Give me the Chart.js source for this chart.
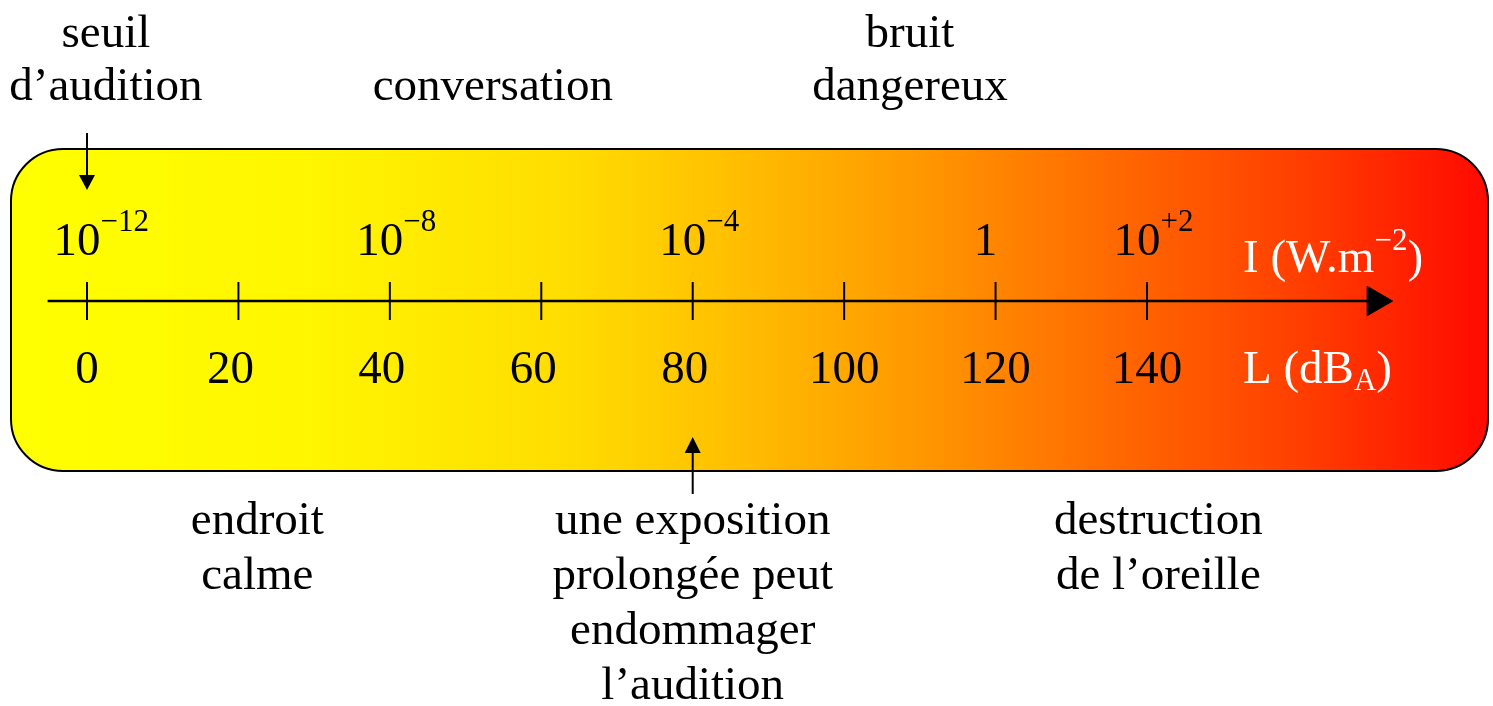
<!DOCTYPE html>
<html>
<head>
<meta charset="utf-8">
<script src="https://cdn.jsdelivr.net/npm/chart.js@4"></script>
<style>
  html, body { margin: 0; padding: 0; background: #ffffff; }
  canvas { display: block; }
</style>
</head>
<body>
<canvas id="c" width="1493" height="706"></canvas>
<script>
// ---- data ----
const dbTicks = [0, 20, 40, 60, 80, 100, 120, 140];
const dbTickLabels = ['0', '20', '40', '60', '80', '100', '120', '140'];
const intensityTickDb = [0, 40, 80, 120, 140];
const intensityMantissa = ['10', '10', '10', '1', '10'];
const intensityExponent = ['−12', '−8', '−4', '', '+2'];
const axisRangeDb = [-5.2, 169.5];
const axisArrowDb = [170.2];
const topNotes = [['seuil', 'd’audition'], ['conversation'], ['bruit', 'dangereux']];
const topNoteDb = [2.5, 53.6, 108.7];
const bottomNotes = [['endroit', 'calme'], ['une exposition', 'prolongée peut', 'endommager', 'l’audition'], ['destruction', 'de l’oreille']];
const bottomNoteDb = [22.5, 80, 141.5];
const seuilArrowDb = 0;
const expositionArrowDb = 80;
const intensityUnit = ['I (W.m', '−2', ')'];
const levelUnit = ['L (dB', 'A', ')'];

const FONT = '"Liberation Serif", "Times New Roman", serif';

const diagramPlugin = {
  id: 'diagram',
  beforeDraw(chart) {
    const ctx = chart.ctx;
    ctx.save();
    ctx.fillStyle = '#ffffff';
    ctx.fillRect(0, 0, chart.width, chart.height);
    const L = 11, T = 149, R = 1488, B = 471, r = 52;
    const g = ctx.createLinearGradient(L, 0, R, 0);
    g.addColorStop(0.0, '#ffff00');
    g.addColorStop(0.2, '#fff600');
    g.addColorStop(0.38, '#ffdc00');
    g.addColorStop(0.5, '#ffbc00');
    g.addColorStop(0.62, '#ff9600');
    g.addColorStop(0.75, '#ff6800');
    g.addColorStop(0.88, '#ff3c00');
    g.addColorStop(1.0, '#ff0a00');
    ctx.beginPath();
    ctx.moveTo(L + r, T);
    ctx.lineTo(R - r, T);
    ctx.arcTo(R, T, R, T + r, r);
    ctx.lineTo(R, B - r);
    ctx.arcTo(R, B, R - r, B, r);
    ctx.lineTo(L + r, B);
    ctx.arcTo(L, B, L, B - r, r);
    ctx.lineTo(L, T + r);
    ctx.arcTo(L, T, L + r, T, r);
    ctx.closePath();
    ctx.fillStyle = g;
    ctx.fill();
    ctx.lineWidth = 2;
    ctx.strokeStyle = '#000000';
    ctx.stroke();
    ctx.restore();
  },
  afterDatasetsDraw(chart) {
    const ctx = chart.ctx;
    const xs = chart.scales.x;
    const big = '47px ' + FONT;
    const small = '31px ' + FONT;
    ctx.save();
    ctx.textBaseline = 'alphabetic';
    ctx.fillStyle = '#000000';

    // dB tick labels (below axis)
    ctx.font = big;
    ctx.textAlign = 'center';
    dbTicks.forEach((v, i) => {
      const lab = dbTickLabels[i];
      const off = lab.length === 2 ? -8 : 0;
      ctx.fillText(lab, xs.getPixelForValue(v) + off, 383);
    });

    // intensity labels (above axis)
    intensityTickDb.forEach((v, i) => {
      const cx = xs.getPixelForValue(v) - 10;
      ctx.font = big;
      ctx.textAlign = 'center';
      ctx.fillText(intensityMantissa[i], cx, 255);
      const w = ctx.measureText(intensityMantissa[i]).width;
      if (intensityExponent[i]) {
        ctx.font = small;
        ctx.textAlign = 'left';
        ctx.fillText(intensityExponent[i], cx + w / 2, 231);
      }
    });

    // unit labels in white
    ctx.fillStyle = '#ffffff';
    ctx.textAlign = 'left';
    let x = 1243;
    ctx.font = big;
    ctx.fillText(intensityUnit[0], x, 272);
    x += ctx.measureText(intensityUnit[0]).width;
    ctx.font = small;
    ctx.fillText(intensityUnit[1], x, 250);
    x += ctx.measureText(intensityUnit[1]).width;
    ctx.font = big;
    ctx.fillText(intensityUnit[2], x, 272);

    x = 1243;
    ctx.font = big;
    ctx.fillText(levelUnit[0], x, 383);
    x += ctx.measureText(levelUnit[0]).width;
    ctx.font = small;
    ctx.fillText(levelUnit[1], x, 390);
    x += ctx.measureText(levelUnit[1]).width;
    ctx.font = big;
    ctx.fillText(levelUnit[2], x, 383);

    // notes
    ctx.fillStyle = '#000000';
    ctx.font = big;
    ctx.textAlign = 'center';
    topNotes.forEach((lines, i) => {
      const cx = xs.getPixelForValue(topNoteDb[i]);
      const n = lines.length;
      lines.forEach((t, j) => ctx.fillText(t, cx, 100 - (n - 1 - j) * 53));
    });
    bottomNotes.forEach((lines, i) => {
      const cx = xs.getPixelForValue(bottomNoteDb[i]);
      lines.forEach((t, j) => ctx.fillText(t, cx, 534 + j * 55));
    });

    // annotation arrows
    ctx.strokeStyle = '#000000';
    ctx.lineWidth = 2;
    const ax1 = xs.getPixelForValue(seuilArrowDb);
    ctx.beginPath();
    ctx.moveTo(ax1, 133);
    ctx.lineTo(ax1, 178);
    ctx.stroke();
    ctx.beginPath();
    ctx.moveTo(ax1 - 8, 175);
    ctx.lineTo(ax1 + 8, 175);
    ctx.lineTo(ax1, 190);
    ctx.closePath();
    ctx.fill();

    const ax2 = xs.getPixelForValue(expositionArrowDb);
    ctx.beginPath();
    ctx.moveTo(ax2, 494);
    ctx.lineTo(ax2, 450);
    ctx.stroke();
    ctx.beginPath();
    ctx.moveTo(ax2 - 8, 453);
    ctx.lineTo(ax2 + 8, 453);
    ctx.lineTo(ax2, 437);
    ctx.closePath();
    ctx.fill();
    ctx.restore();
  }
};

new Chart(document.getElementById('c'), {
  type: 'scatter',
  data: {
    datasets: [
      {
        type: 'line',
        data: axisRangeDb.map(v => ({ x: v, y: 0 })),
        borderColor: '#000000',
        borderWidth: 2.5,
        pointRadius: 0,
        fill: false
      },
      {
        data: dbTicks.map(v => ({ x: v, y: 0 })),
        pointStyle: 'line',
        rotation: 90,
        radius: 19,
        borderColor: '#000000',
        borderWidth: 2,
        backgroundColor: '#000000'
      },
      {
        data: axisArrowDb.map(v => ({ x: v, y: 0 })),
        pointStyle: 'triangle',
        rotation: 90,
        radius: 17,
        borderColor: '#000000',
        borderWidth: 1,
        backgroundColor: '#000000'
      }
    ]
  },
  options: {
    responsive: false,
    animation: false,
    events: [],
    layout: { padding: 0, autoPadding: false },
    plugins: { legend: { display: false }, tooltip: { enabled: false } },
    scales: {
      x: { type: 'linear', min: -11.49, max: 185.70, display: false },
      y: { type: 'linear', min: -405, max: 301, display: false }
    }
  },
  plugins: [diagramPlugin]
});
</script>
</body>
</html>
